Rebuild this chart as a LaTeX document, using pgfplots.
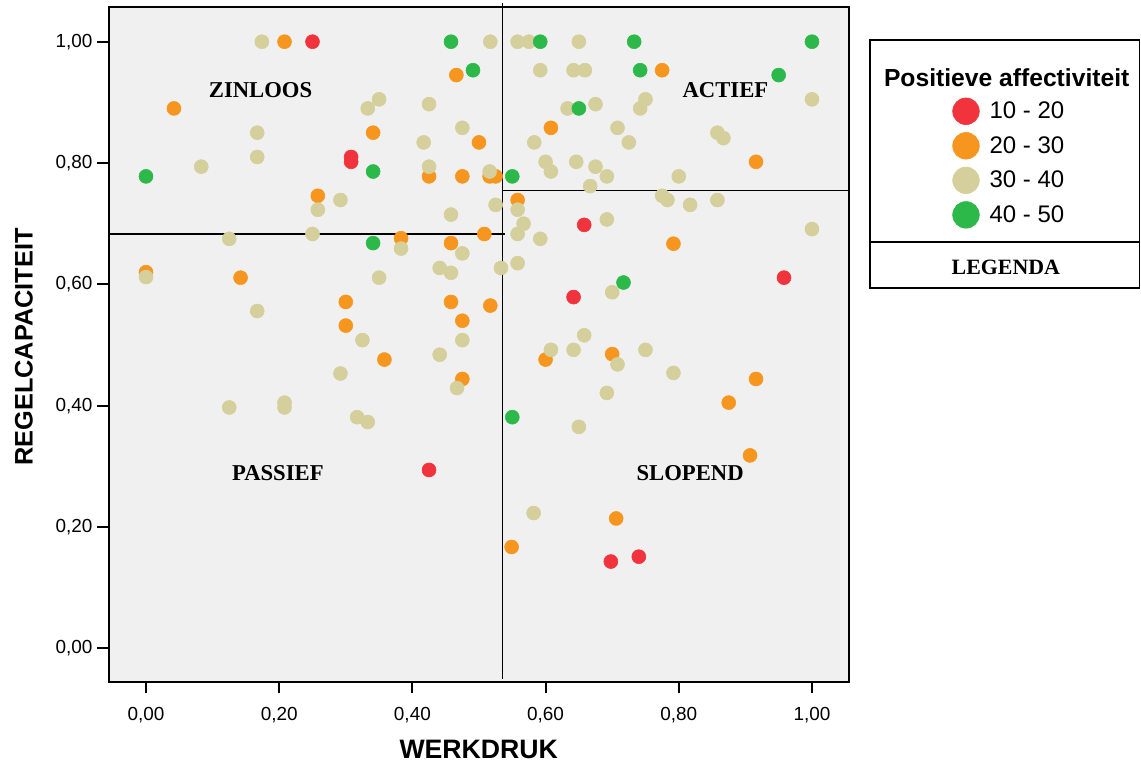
\documentclass[border=0pt]{standalone}
\usepackage{fontspec}
\setmainfont{Liberation Sans}
\newfontfamily\timesfont{Liberation Serif}
\usepackage{pgfplots}
\pgfplotsset{compat=1.18}
\definecolor{cred}{RGB}{240,51,61}
\definecolor{corange}{RGB}{247,150,31}
\definecolor{ctan}{RGB}{212,207,155}
\definecolor{cgreen}{RGB}{45,184,74}
\definecolor{bggray}{RGB}{240,240,240}
\begin{document}
\begin{tikzpicture}
\useasboundingbox (0,0) rectangle (855.75pt,573.75pt);
\begin{axis}[
  at={(81.375pt,62.25pt)}, anchor=south west,
  scale only axis, width=555.375pt, height=505.875pt,
  xmin=-0.0563, xmax=1.0556, ymin=-0.0556, ymax=1.0564,
  clip=false,
  axis background/.style={fill=bggray},
  axis line style={line width=1.5pt},
  xtick={0,0.2,0.4,0.6,0.8,1}, ytick={0,0.2,0.4,0.6,0.8,1},
  tick pos=left, tick align=outside,
  major tick length=8.5pt,
  every tick/.style={black, line width=1.5pt},
  /pgf/number format/fixed,
  /pgf/number format/fixed zerofill,
  /pgf/number format/precision=2,
  /pgf/number format/use comma,
  /pgf/number format/assume math mode=true,
  tick label style={font=\fontsize{14.2}{16}\selectfont},
  xticklabel style={yshift=-7pt},
  xlabel={WERKDRUK}, ylabel={REGELCAPACITEIT},
  xlabel style={at={(axis description cs:0.5,-0.0995)}, anchor=center, inner sep=0pt, font=\bfseries\fontsize{20}{24}\selectfont},
  ylabel style={at={(axis description cs:-0.1141,0.4967)}, anchor=center, inner sep=0pt, font=\bfseries\fontsize{19}{24}\selectfont},
  legend style={at={(axis description cs:1.1396,0.8663)}, anchor=north west, draw=none, fill=none,
    inner sep=0pt, outer sep=0pt, row sep=5.5pt, column sep=7.5pt,
    font=\fontsize{18}{18}\selectfont, nodes={inner sep=0pt, outer sep=0pt}},
  legend cell align=left,
  legend image code/.code={\fill (0pt,0pt) circle (10pt);},
]
\addplot[only marks, mark=*, color=cred, mark size=5.25pt, mark options={draw=none}] coordinates {
(0.250,1.000) (0.308,0.810) (0.308,0.802) (0.658,0.698) (0.642,0.579)
(0.958,0.611) (0.425,0.294) (0.698,0.143) (0.740,0.151)
};
\addlegendentry{10 - 20}
\addplot[only marks, mark=*, color=corange, mark size=5.25pt, mark options={draw=none}] coordinates {
(0.208,1.000) (0.466,0.945) (0.042,0.890) (0.341,0.850) (0.500,0.834)
(0.425,0.778) (0.475,0.778) (0.516,0.778) (0.525,0.778) (0.258,0.746)
(0.383,0.676) (0.458,0.668) (0.508,0.683) (0.775,0.953) (0.608,0.858)
(0.916,0.802) (0.558,0.739) (0.792,0.667) (0.000,0.620) (0.142,0.611)
(0.300,0.571) (0.300,0.532) (0.358,0.476) (0.458,0.571) (0.517,0.565)
(0.475,0.540) (0.475,0.444) (0.600,0.476) (0.700,0.485) (0.916,0.444)
(0.875,0.405) (0.907,0.318) (0.706,0.214) (0.549,0.167)
};
\addlegendentry{20 - 30}
\addplot[only marks, mark=*, color=ctan, mark size=5.25pt, mark options={draw=none}] coordinates {
(0.174,1.000) (0.517,1.000) (0.558,1.000) (0.575,1.000) (0.650,1.000)
(0.350,0.905) (0.333,0.890) (0.425,0.897) (0.167,0.850) (0.475,0.858)
(0.417,0.834) (0.167,0.810) (0.083,0.794) (0.425,0.794) (0.516,0.786)
(0.292,0.739) (0.258,0.723) (0.458,0.715) (0.525,0.731) (0.125,0.675)
(0.250,0.683) (0.383,0.659) (0.475,0.651) (0.000,0.612) (0.350,0.611)
(0.441,0.627) (0.458,0.619) (0.533,0.627) (0.167,0.556) (0.325,0.508)
(0.292,0.453) (0.475,0.508) (0.441,0.484) (0.467,0.429) (0.125,0.397)
(0.208,0.405) (0.208,0.397) (0.317,0.381) (0.333,0.373)
(0.592,0.953) (0.642,0.953) (0.659,0.953) (0.750,0.905) (0.742,0.890)
(0.633,0.890) (0.675,0.897) (0.708,0.858) (0.583,0.834) (0.725,0.834)
(0.858,0.850) (0.867,0.841) (0.600,0.802) (0.608,0.786) (0.646,0.802)
(0.675,0.794) (0.692,0.778) (0.667,0.762) (0.800,0.778) (1.000,0.905)
(0.775,0.746) (0.783,0.739) (0.817,0.731) (0.858,0.739) (0.558,0.723)
(0.567,0.700) (0.558,0.683) (0.592,0.675) (0.692,0.707) (1.000,0.691)
(0.558,0.635) (0.700,0.587) (0.658,0.516) (0.608,0.492) (0.642,0.492)
(0.708,0.468) (0.750,0.492) (0.792,0.454) (0.692,0.421) (0.650,0.365)
(0.582,0.223)
};
\addlegendentry{30 - 40}
\addplot[only marks, mark=*, color=cgreen, mark size=5.25pt, mark options={draw=none}] coordinates {
(0.458,1.000) (0.592,1.000) (0.733,1.000) (1.000,1.000) (0.491,0.953)
(0.742,0.953) (0.950,0.945) (0.650,0.890) (0.000,0.778) (0.341,0.786)
(0.550,0.778) (0.341,0.668) (0.717,0.603) (0.550,0.381)
};
\addlegendentry{40 - 50}
\draw[line width=1pt] (axis cs:0.5353,1.0638) -- (axis cs:0.5353,-0.0506);
\draw[line width=1pt] (axis cs:-0.0563,0.683) -- (axis cs:0.539,0.683);
\draw[line width=1pt] (axis cs:0.536,0.755) -- (axis cs:1.0556,0.755);
\node[font=\timesfont\bfseries\fontsize{17}{17}\selectfont] at (axis cs:0.172,0.9196) {ZINLOOS};
\node[font=\timesfont\bfseries\fontsize{17}{17}\selectfont] at (axis cs:0.870,0.9196) {ACTIEF};
\node[font=\timesfont\bfseries\fontsize{17}{17}\selectfont] at (axis cs:0.198,0.2885) {PASSIEF};
\node[font=\timesfont\bfseries\fontsize{17}{17}\selectfont] at (axis cs:0.817,0.2885) {SLOPEND};
\end{axis}
\begin{scope}[shift={(0pt,573.75pt)}, x=0.75pt, y=-0.75pt]
\draw[line width=1.2pt] (870,40) rectangle (1139.3,288.3);
\draw[line width=1.2pt] (870,242.3) -- (1139.3,242.3);
\node[font=\bfseries\fontsize{18.5}{18.5}\selectfont] at (1006.7,78) {Positieve affectiviteit};
\node[font=\timesfont\bfseries\fontsize{16.4}{17}\selectfont] at (1005.8,267.3) {LEGENDA};
\end{scope}
\end{tikzpicture}
\end{document}
